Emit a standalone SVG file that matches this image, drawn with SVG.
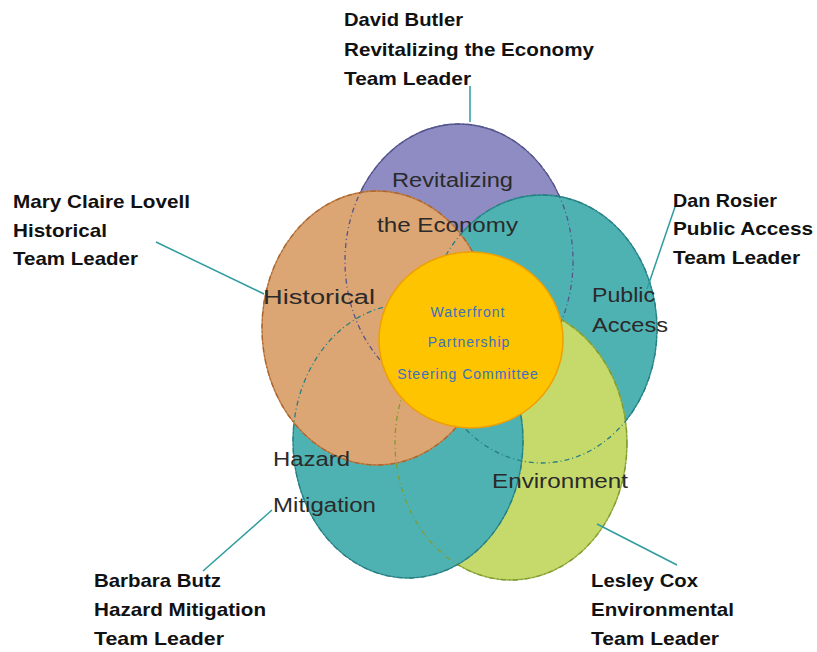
<svg xmlns="http://www.w3.org/2000/svg" width="817" height="652" viewBox="0 0 817 652">
<style>
.lbl{font-family:"Liberation Sans",Arial,sans-serif;font-weight:bold;font-size:19px;fill:#111}
.in{font-family:"Liberation Sans",Arial,sans-serif;font-size:20px;fill:#2a2a2a}
.ctr{font-family:"Liberation Sans",Arial,sans-serif;font-size:14px;fill:#3a6fc4;letter-spacing:1px}
.dash{fill:none;stroke-width:1.3;stroke-dasharray:5 3 1 3}
.conn{stroke:#2e9c9e;stroke-width:1.5;fill:none}
</style>
<rect width="817" height="652" fill="#ffffff"/>
<g id="circles">
<g id="economy"><ellipse cx="459" cy="261" rx="114" ry="137" fill="#8e8cc2" stroke="#55558e" stroke-width="1.3"/></g>
<g id="public-access"><ellipse cx="542" cy="329" rx="115" ry="134" fill="#4fb2b2" stroke="#2a8a8c" stroke-width="1.3"/></g>
<g id="environment"><ellipse cx="511" cy="443" rx="116" ry="137" fill="#c6da6c" stroke="#93ad3c" stroke-width="1.3"/></g>
<g id="hazard"><ellipse cx="408" cy="441" rx="115" ry="137" fill="#4fb2b2" stroke="#2a8a8c" stroke-width="1.3"/></g>
<g id="historical"><ellipse cx="377" cy="328" rx="115" ry="137" fill="#dba574" stroke="#c07a40" stroke-width="1.3"/></g>
<g id="outlines">
<ellipse class="dash" cx="459" cy="261" rx="114" ry="137" stroke="#55558e"/>
<ellipse class="dash" cx="542" cy="329" rx="115" ry="134" stroke="#2a7f82"/>
<ellipse class="dash" cx="511" cy="443" rx="116" ry="137" stroke="#7f9c30"/>
<ellipse class="dash" cx="408" cy="441" rx="115" ry="137" stroke="#2a7f82"/>
<ellipse class="dash" cx="377" cy="328" rx="115" ry="137" stroke="#a8652e"/>
</g>
<g id="steering"><ellipse cx="471" cy="340" rx="92" ry="88" fill="#ffc400" stroke="#eea000" stroke-width="1.5"/>
<text class="ctr" x="468" y="317" text-anchor="middle">Waterfront</text>
<text class="ctr" x="469" y="347" text-anchor="middle">Partnership</text>
<text class="ctr" x="468" y="379" text-anchor="middle">Steering Committee</text>
</g>
</g>
<g id="circle-labels">
<text class="in" x="392" y="187" textLength="121" lengthAdjust="spacingAndGlyphs">Revitalizing</text>
<text class="in" x="377" y="232" textLength="141" lengthAdjust="spacingAndGlyphs">the Economy</text>
<text class="in" x="263" y="304" textLength="112" lengthAdjust="spacingAndGlyphs">Historical</text>
<text class="in" x="592" y="302" textLength="63" lengthAdjust="spacingAndGlyphs">Public</text>
<text class="in" x="592" y="332" textLength="76" lengthAdjust="spacingAndGlyphs">Access</text>
<text class="in" x="273" y="466" textLength="77" lengthAdjust="spacingAndGlyphs">Hazard</text>
<text class="in" x="273" y="512" textLength="103" lengthAdjust="spacingAndGlyphs">Mitigation</text>
<text class="in" x="492" y="488" textLength="136" lengthAdjust="spacingAndGlyphs">Environment</text>
</g>
<g id="connectors">
<line class="conn" x1="470" y1="86" x2="470" y2="122"/>
<line class="conn" x1="156" y1="242" x2="264" y2="294"/>
<line class="conn" x1="676" y1="204" x2="647" y2="289"/>
<line class="conn" x1="272" y1="510" x2="203" y2="571"/>
<line class="conn" x1="597" y1="524" x2="677" y2="565"/>
</g>
<g id="leader-top">
<text class="lbl" x="344" y="26" textLength="119" lengthAdjust="spacingAndGlyphs">David Butler</text>
<text class="lbl" x="344" y="56" textLength="250" lengthAdjust="spacingAndGlyphs">Revitalizing the Economy</text>
<text class="lbl" x="344" y="85" textLength="127" lengthAdjust="spacingAndGlyphs">Team Leader</text>
</g>
<g id="leader-historical">
<text class="lbl" x="13" y="208" textLength="177" lengthAdjust="spacingAndGlyphs">Mary Claire Lovell</text>
<text class="lbl" x="13" y="237" textLength="94" lengthAdjust="spacingAndGlyphs">Historical</text>
<text class="lbl" x="13" y="265" textLength="125" lengthAdjust="spacingAndGlyphs">Team Leader</text>
</g>
<g id="leader-public">
<text class="lbl" x="673" y="207" textLength="104" lengthAdjust="spacingAndGlyphs">Dan Rosier</text>
<text class="lbl" x="673" y="235" textLength="140" lengthAdjust="spacingAndGlyphs">Public Access</text>
<text class="lbl" x="673" y="264" textLength="127" lengthAdjust="spacingAndGlyphs">Team Leader</text>
</g>
<g id="leader-hazard">
<text class="lbl" x="94" y="587" textLength="127" lengthAdjust="spacingAndGlyphs">Barbara Butz</text>
<text class="lbl" x="94" y="616" textLength="172" lengthAdjust="spacingAndGlyphs">Hazard Mitigation</text>
<text class="lbl" x="94" y="645" textLength="130" lengthAdjust="spacingAndGlyphs">Team Leader</text>
</g>
<g id="leader-environment">
<text class="lbl" x="591" y="587" textLength="107" lengthAdjust="spacingAndGlyphs">Lesley Cox</text>
<text class="lbl" x="591" y="616" textLength="143" lengthAdjust="spacingAndGlyphs">Environmental</text>
<text class="lbl" x="591" y="645" textLength="128" lengthAdjust="spacingAndGlyphs">Team Leader</text>
</g>
</svg>
